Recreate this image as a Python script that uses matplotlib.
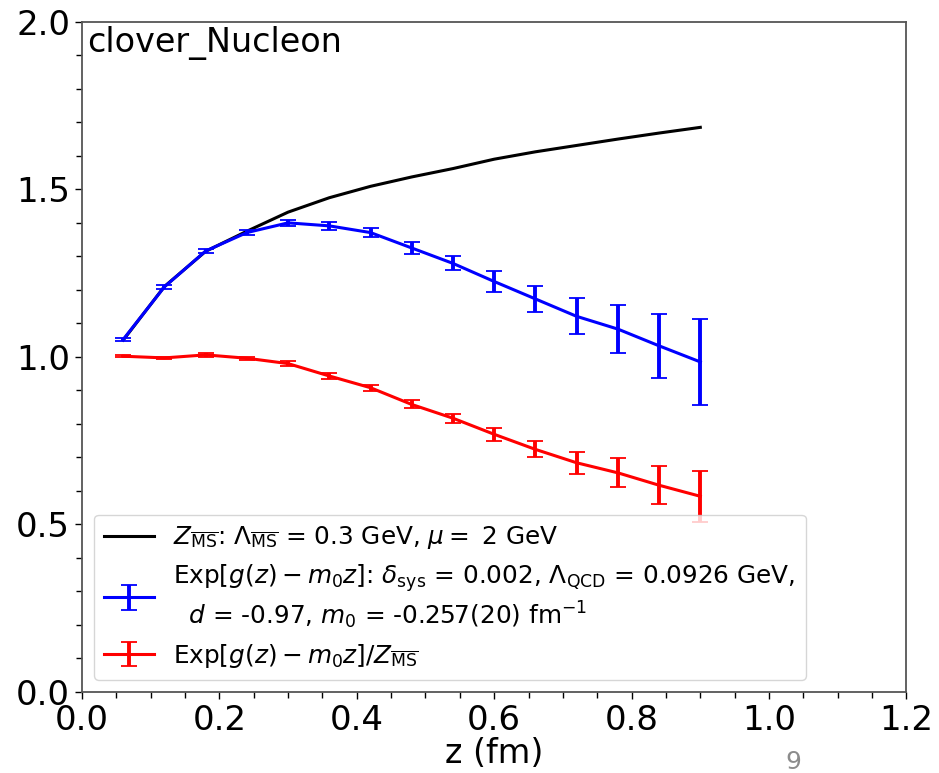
import numpy as np
import matplotlib
matplotlib.use("Agg")
import matplotlib.pyplot as plt
from matplotlib.ticker import MultipleLocator

# z values (fm), lattice spacing 0.06
z = [0.06, 0.12, 0.18, 0.24, 0.30, 0.36, 0.42, 0.48, 0.54, 0.60, 0.66, 0.72, 0.78, 0.84, 0.90]

# perturbative Z_MSbar
Z_msbar = [1.05, 1.21, 1.315, 1.375, 1.432, 1.475, 1.509, 1.537, 1.562, 1.590, 1.612, 1.631, 1.650, 1.668, 1.685]

# Exp[g(z) - m0 z]
g_exp = [1.052, 1.209, 1.316, 1.371, 1.400, 1.391, 1.371, 1.325, 1.279, 1.225, 1.173, 1.121, 1.083, 1.033, 0.985]
g_err = [0.004, 0.005, 0.006, 0.007, 0.010, 0.0115, 0.0135, 0.018, 0.021, 0.030, 0.040, 0.054, 0.072, 0.095, 0.128]

# Exp[g(z) - m0 z] / Z_MSbar
ratio = [1.002, 0.997, 1.006, 0.996, 0.980, 0.943, 0.908, 0.858, 0.817, 0.769, 0.724, 0.684, 0.654, 0.617, 0.584]
ratio_err = [0.003, 0.003, 0.005, 0.005, 0.007, 0.008, 0.009, 0.012, 0.014, 0.019, 0.024, 0.033, 0.043, 0.057, 0.076]

fig = plt.figure(figsize=(9.39, 7.73), dpi=100)
ax = fig.add_axes([0.0873, 0.1048, 0.878, 0.8670])

ax.plot(z, Z_msbar, color='black', lw=2.2,
        label=r'$Z_{\overline{\rm MS}}$: $\Lambda_{\overline{\rm MS}}$ = 0.3 GeV, $\mu =$ 2 GeV')
ax.errorbar(z, g_exp, yerr=g_err, color='blue', lw=2.2, elinewidth=2.8,
            capsize=5.5, capthick=1.3,
            label=r'Exp[$g(z) - m_0 z$]: $\delta_{\rm sys}$ = 0.002, $\Lambda_{\rm QCD}$ = 0.0926 GeV,'
                  '\n' r'  $d$ = -0.97, $m_0$ = -0.257(20) fm$^{-1}$')
ax.errorbar(z, ratio, yerr=ratio_err, color='red', lw=2.2, elinewidth=2.8,
            capsize=5.5, capthick=1.3,
            label=r'Exp[$g(z) - m_0 z$]/$Z_{\overline{\rm MS}}$')

ax.set_xlim(0, 1.2)
ax.set_ylim(0, 2.0)
ax.xaxis.set_major_locator(MultipleLocator(0.2))
ax.xaxis.set_minor_locator(MultipleLocator(0.05))
ax.yaxis.set_major_locator(MultipleLocator(0.5))
ax.yaxis.set_minor_locator(MultipleLocator(0.1))
ax.tick_params(which='both', labelsize=24.5, width=1)
ax.tick_params(which='major', length=5)
ax.tick_params(which='minor', length=4)
for s in ax.spines.values():
    s.set_color('#555555')
    s.set_linewidth(1.3)

ax.set_xlabel('z (fm)', fontsize=24, labelpad=0)
ax.text(0.006, 0.993, 'clover_Nucleon', transform=ax.transAxes,
        fontsize=24, va='top', ha='left')

ax.legend(loc='lower left', fontsize=17.8, handlelength=2.0, labelspacing=0.45)

fig.text(793 / 939, 1 - 762 / 773, '9', color='#8c8c8c', fontsize=18,
         ha='center', va='center')

fig.savefig('out.png', dpi=100)
